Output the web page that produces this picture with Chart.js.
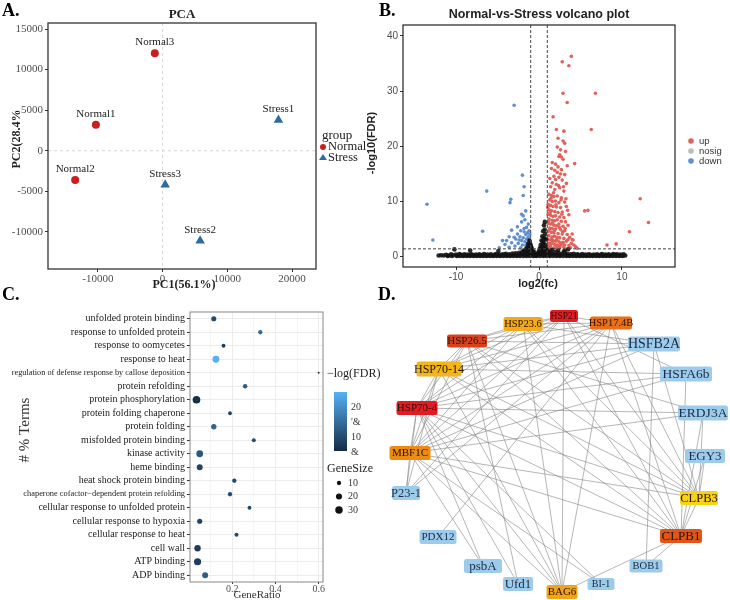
<!DOCTYPE html>
<html>
<head>
<meta charset="utf-8">
<script src="https://cdn.jsdelivr.net/npm/chart.js@4.4.1/dist/chart.umd.min.js"></script>
<style>
body { margin: 0; background: #fff; }
#wrap { position: relative; width: 730px; height: 600px; }
#wrap canvas { position: absolute; left: 0; top: 0; }
</style>
</head>
<body>
<div id="wrap">
  <canvas id="pca" width="730" height="600"></canvas>
  <canvas id="volcano" width="730" height="600"></canvas>
  <canvas id="go" width="730" height="600"></canvas>
  <canvas id="net" width="730" height="600"></canvas>
</div>
<script>
const SERIF = "'Liberation Serif', 'DejaVu Serif', serif";
const SANS = "'Liberation Sans', Arial, sans-serif";

// ---- A. PCA ----
const pcaSamples = ['Normal1', 'Normal2', 'Normal3', 'Stress1', 'Stress2', 'Stress3'];
const pcaGroup = ['Normal', 'Normal', 'Normal', 'Stress', 'Stress', 'Stress'];
const pc1 = [-10300, -13500, -1200, 17900, 5800, 400];
const pc2 = [3200, -3600, 12000, 3800, -11100, -4200];
const pcaXTicks = [-10000, 0, 10000, 20000];
const pcaYTicks = [-10000, -5000, 0, 5000, 10000, 15000];

// ---- B. volcano (log2fc, -log10 FDR) ----
const upPts = [
  [2.8,35.3],[3.9,36.3],[3.6,34.6],[2.9,29.6],[6.8,29.6],[3.4,27.9],[6.3,23.0],[12.2,10.4],[13.2,6.1],[10.9,4.4],
  [5.5,8.2],[5.9,8.3],[8.2,2.0],[9.3,2.2],[4.0,3.0],[4.6,1.4],
  [1.7,25.3],[2.1,23.0],[3.0,22.7],[2.3,21.4],[2.9,20.9],[3.1,20.5],[2.2,19.8],[2.6,19.3],[3.2,19.0],[2.5,18.4],
  [2.7,18.0],[2.4,18.1],[2.9,17.6],[1.6,17.0],[2.0,16.7],[3.4,16.4],[4.3,16.8],[1.5,15.9],[1.9,15.6],[2.2,15.2],
  [2.6,14.9],[3.1,14.8],[1.8,14.5],[2.4,14.3],[1.3,14.1],[2.8,13.8],[1.6,13.3],[2.1,13.0],[3.3,13.2],[1.4,12.6],
  [2.5,12.4],[1.9,12.1],[3.0,11.8],[2.3,16.2],[2.0,13.9],[2.7,15.7],
  [1.2,11.2],[1.5,11.0],[1.8,10.8],[2.2,10.9],[2.7,10.6],[1.3,10.2],[1.6,9.9],[2.0,10.0],[2.4,9.7],[3.1,9.8],
  [1.1,9.4],[1.4,9.2],[1.7,9.0],[2.1,8.9],[2.6,8.8],[3.3,9.0],[1.2,8.4],[1.5,8.2],[1.9,8.1],[2.3,7.9],
  [2.8,8.0],[1.1,7.6],[1.4,7.4],[1.7,7.2],[2.0,7.3],[2.5,7.1],[3.0,7.0],[3.6,7.5],[1.2,6.7],[1.6,6.5],
  [1.9,6.4],[2.2,6.6],[2.7,6.3],[3.2,6.2],[1.1,5.9],[1.4,5.8],[1.8,5.6],[2.1,5.5],[2.4,5.8],[2.9,5.4],
  [3.5,5.6],[1.3,5.1],[1.6,5.0],[2.0,4.9],[2.6,4.8],[3.1,4.6],[1.1,4.5],[1.5,4.3],[1.8,4.2],[2.3,4.1],
  [2.8,4.0],[3.4,3.9],[4.0,4.0],[1.2,3.7],[1.6,3.5],[1.9,3.6],[2.2,3.4],[2.5,3.3],[3.0,3.2],[3.7,3.4],
  [1.1,3.0],[1.4,2.9],[1.7,2.8],[2.0,2.7],[2.4,2.6],[2.9,2.5],[3.3,2.7],[4.1,2.9],[1.2,2.3],[1.5,2.2],
  [1.9,2.1],[2.2,2.0],[2.6,1.9],[3.1,2.0],[3.6,1.9],[4.2,2.0],[1.1,1.7],[1.4,1.6],[1.8,1.5],[2.1,1.6],
  [2.5,1.5],[3.0,1.6],[3.8,1.5],[4.4,1.7],[1.0,1.4],[1.3,1.9],[1.6,2.5],[2.3,1.8],[2.8,2.2],[1.15,6.2],
  [1.25,4.8],[1.05,8.8],[1.35,7.9],[1.45,10.5],[1.55,3.2],[1.65,6.0],[1.75,11.5],[1.85,4.6],[2.05,9.3],[2.15,3.0],
  [2.35,12.8],[2.45,5.2],[2.55,2.4],[2.65,10.2],[2.75,7.6],[2.85,4.4],[3.5,3.0],[3.9,2.3],[2.95,12.6],[3.25,10.4],
  [3.45,8.3],[3.15,5.0]
];
const nosigPts = [
  [-12.1,0.1],[-11.8,0.15],[-11.5,0.1],[-11.2,0.2],[-10.9,0.1],[-10.6,0.3],[-10.3,0.15],[-10.0,0.25],[-9.8,0.1],[-9.6,0.35],
  [-9.4,0.2],[-9.2,0.1],[-9.0,0.3],[-8.8,0.15],[-8.6,0.25],[-8.4,0.1],[-8.2,0.3],[-8.0,0.2],[-7.8,0.1],[-7.6,0.25],
  [-7.4,0.15],[-7.2,0.3],[-7.0,0.1],[-6.8,0.2],[-6.6,0.35],[-6.4,0.1],[-6.2,0.25],[-6.0,0.15],[-5.8,0.3],[-5.6,0.1],
  [-5.4,0.2],[-5.2,0.35],[-5.0,0.15],[-4.8,0.25],[-4.6,0.1],[-4.4,0.3],[-4.2,0.2],[-4.0,0.4],[-3.8,0.15],[-3.6,0.3],
  [-3.4,0.1],[-3.2,0.45],[-3.0,0.25],[-2.8,0.5],[-2.6,0.15],[-2.4,0.6],[-2.2,0.3],[-2.0,0.8],[-1.9,0.4],[-1.8,1.0],
  [-1.7,0.2],[-1.6,1.2],[-1.5,0.6],[-1.4,1.6],[-1.35,0.9],[-1.3,2.2],[-1.25,0.3],[-1.2,1.4],[-1.15,2.8],[-1.1,0.7],
  [-1.05,1.9],[-1.0,1.1],[-0.95,0.4],[-0.9,1.5],[-0.85,0.8],[-0.8,0.2],[-0.75,1.0],[-0.7,0.5],[-0.6,0.3],[-0.5,0.15],
  [-0.4,0.1],[-0.3,0.2],[-0.2,0.35],[-0.1,0.6],[0.0,0.9],[0.1,1.4],[0.15,0.5],[0.2,2.0],[0.25,1.1],[0.3,2.8],
  [0.35,0.7],[0.4,3.6],[0.45,1.8],[0.5,4.5],[0.55,2.4],[0.6,5.6],[0.62,1.2],[0.65,3.2],[0.7,6.2],[0.72,0.6],
  [0.75,4.0],[0.8,2.0],[0.85,3.0],[0.9,1.2],[0.95,0.5],[1.0,0.9],[1.1,0.3],[1.2,0.6],[1.3,0.2],[1.4,0.9],
  [1.5,0.4],[1.6,1.1],[1.8,0.3],[2.0,0.7],[2.2,0.2],[2.4,0.5],[2.6,0.15],[2.8,0.4],[3.0,0.8],[3.2,0.2],
  [3.4,0.35],[3.6,0.1],[3.8,0.3],[4.0,0.2],[4.2,0.4],[4.4,0.1],[4.6,0.3],[4.8,0.2],[5.0,0.1],[5.2,0.35],
  [5.4,0.15],[5.6,0.25],[5.8,0.1],[6.0,0.3],[6.2,0.2],[6.4,0.1],[6.6,0.25],[6.8,0.15],[7.0,0.3],[7.2,0.1],
  [7.4,0.2],[7.6,0.35],[7.8,0.1],[8.0,0.25],[8.2,0.15],[8.4,0.3],[8.6,0.1],[8.8,0.2],[9.0,0.35],[9.2,0.15],
  [9.4,0.3],[9.6,0.1],[9.8,0.25],[10.0,0.15],[10.2,0.3],[10.4,0.1],
  [-11.0,0.0],[-10.5,0.0],[-9.9,0.0],[-9.5,0.0],[-9.1,0.0],[-8.7,0.0],[-8.3,0.0],[-7.9,0.0],[-7.5,0.0],[-7.1,0.0],
  [-6.7,0.0],[-6.3,0.0],[-5.9,0.0],[-5.5,0.0],[-5.1,0.0],[-4.7,0.0],[-4.3,0.0],[-3.9,0.0],[-3.5,0.0],[-3.1,0.0],
  [-2.7,0.0],[-2.3,0.0],[-1.9,0.0],[-1.5,0.0],[-1.1,0.0],[-0.7,0.0],[-0.3,0.0],[0.1,0.0],[0.5,0.0],[0.9,0.0],
  [1.3,0.0],[1.7,0.0],[2.1,0.0],[2.5,0.0],[2.9,0.0],[3.3,0.0],[3.7,0.0],[4.1,0.0],[4.5,0.0],[4.9,0.0],
  [5.3,0.0],[5.7,0.0],[6.1,0.0],[6.5,0.0],[6.9,0.0],[7.3,0.0],[7.7,0.0],[8.1,0.0],[8.5,0.0],[8.9,0.0],
  [9.3,0.0],[9.7,0.0],[10.1,0.0],
  [-10.2,1.2],[-8.3,1.0],[-4.9,0.9],[2.3,1.0],[3.5,1.2],[3.1,0.9],
  [-1.6,0.3],[-1.4,0.5],[-1.2,0.2],[-1.0,0.4],[-0.8,0.6],[0.2,0.3],[0.4,0.6],[0.6,0.2],[0.8,0.5],[1.0,0.2],
  [0.5,1.0],[0.35,1.6],[0.55,3.3],[0.68,4.8],[0.45,2.6],[-1.1,2.4],[-1.25,1.7],[-1.0,2.0],
  [-1.7,0.7],[-1.45,1.1],[-1.2,0.9],[-0.95,1.5],[-0.6,0.7],[0.05,0.4],[0.3,1.3],[0.5,2.0],[0.75,1.5],[0.85,0.9]
];
const downPts = [
  [-13.5,9.4],[-12.8,2.9],[-6.3,11.8],[-6.8,4.5],[-3.0,27.4],[-3.4,10.3],[-3.5,9.7],[-2.0,14.7],[-1.8,12.6],[-1.9,11.0],
  [-1.6,8.2],[-2.1,7.6],[-1.9,7.3],[-3.3,4.7],[-4.8,1.5],[-2.6,5.3],[-1.7,6.6],[-1.3,5.8],[-1.5,5.2],[-2.2,4.6],
  [-1.2,4.6],[-1.8,4.4],[-1.4,4.2],[-2.6,4.0],[-1.1,4.0],[-1.6,3.9],[-3.6,3.5],[-3.0,3.4],[-2.3,3.5],[-1.3,3.5],
  [-1.9,3.3],[-1.5,3.1],[-2.8,3.1],[-1.2,3.0],[-3.9,2.8],[-2.1,2.8],[-1.7,2.6],[-3.3,2.4],[-2.5,2.3],[-1.4,2.3],
  [-1.1,2.2],[-4.1,2.1],[-2.0,2.0],[-1.6,1.9],[-2.9,1.8],[-1.3,1.7],[-3.6,1.6],[-2.2,1.5],[-1.5,1.5],[-1.1,1.4],
  [-4.4,2.8],[-2.4,2.9],[-2.1,6.2],[-1.8,5.0]
];
const volcanoXTicks = [-10, 0, 10];
const volcanoYTicks = [0, 10, 20, 30, 40];
const fcCut = 1;
const fdrCut = 1.3;

// ---- C. GO enrichment ----
const goTerms = [
  'unfolded protein binding', 'response to unfolded protein', 'response to oomycetes', 'response to heat',
  'regulation of defense response by callose deposition', 'protein refolding', 'protein phosphorylation',
  'protein folding chaperone', 'protein folding', 'misfolded protein binding', 'kinase activity', 'heme binding',
  'heat shock protein binding', 'chaperone cofactor\u2212dependent protein refolding',
  'cellular response to unfolded protein', 'cellular response to hypoxia', 'cellular response to heat',
  'cell wall', 'ATP binding', 'ADP binding'
];
const geneRatio = [0.115, 0.33, 0.16, 0.125, 0.6, 0.26, 0.035, 0.19, 0.115, 0.3, 0.05, 0.05, 0.21, 0.19, 0.28, 0.05, 0.22, 0.04, 0.04, 0.075];
const geneSize = [14, 10, 8, 25, 2, 11, 32, 8, 16, 9, 25, 19, 10, 10, 8, 14, 9, 22, 28, 19];
const logFDR = [10, 15, 8, 25, 6, 13, 6, 9, 14, 11, 12, 9, 10, 10, 10, 9, 10, 8, 8, 13];
const ratioTicks = [0.1, 0.2, 0.3, 0.4, 0.5, 0.6];
const ratioLabels = [0.2, 0.4, 0.6];
const fdrBarLabels = ['20', "'&", '10', '&'];
const fdrBarValues = [20, 15, 10, 5];
const sizeLegend = [10, 20, 30];

// ---- D. interaction network ----
const nodeNames = ['HSP21', 'HSP17.4B', 'HSP23.6', 'HSP26.5', 'HSFB2A', 'HSP70-14', 'HSFA6b', 'HSP70-4', 'ERDJ3A', 'MBF1C',
  'EGY3', 'P23-1', 'CLPB3', 'PDX12', 'CLPB1', 'psbA', 'BOB1', 'Ufd1', 'BI-1', 'BAG6'];
const nodeX = [564, 611, 523, 467, 654, 439, 686, 417, 703, 410, 705, 406, 699, 438, 681, 483, 646, 518, 601, 562];
const nodeY = [316, 323, 324, 341, 344, 369, 374, 408, 413, 453, 456, 493, 498, 537, 536, 566, 566, 584, 584, 592];
const edges = [
  ['HSP21','HSP23.6'],['HSP21','HSP17.4B'],['HSP21','HSP26.5'],['HSP21','HSP70-14'],['HSP21','HSP70-4'],['HSP21','MBF1C'],
  ['HSP21','CLPB3'],['HSP21','CLPB1'],['HSP21','BAG6'],['HSP21','P23-1'],['HSP21','HSFA6b'],
  ['HSP23.6','HSP17.4B'],['HSP23.6','HSP26.5'],['HSP23.6','HSP70-14'],['HSP23.6','HSP70-4'],['HSP23.6','MBF1C'],
  ['HSP23.6','HSFB2A'],['HSP23.6','CLPB1'],['HSP23.6','BAG6'],['HSP23.6','CLPB3'],
  ['HSP17.4B','HSP26.5'],['HSP17.4B','HSP70-14'],['HSP17.4B','HSP70-4'],['HSP17.4B','MBF1C'],['HSP17.4B','CLPB3'],
  ['HSP17.4B','CLPB1'],['HSP17.4B','BAG6'],['HSP17.4B','PDX12'],['HSP17.4B','P23-1'],
  ['HSP26.5','HSFB2A'],['HSP26.5','HSP70-14'],['HSP26.5','HSP70-4'],['HSP26.5','MBF1C'],['HSP26.5','ERDJ3A'],
  ['HSP26.5','CLPB3'],['HSP26.5','BAG6'],['HSP26.5','Ufd1'],['HSP26.5','CLPB1'],
  ['HSP70-14','HSFA6b'],['HSP70-14','HSP70-4'],['HSP70-14','MBF1C'],['HSP70-14','CLPB3'],['HSP70-14','CLPB1'],
  ['HSP70-14','BAG6'],['HSP70-14','P23-1'],['HSP70-14','HSFB2A'],
  ['HSP70-4','ERDJ3A'],['HSP70-4','HSFA6b'],['HSP70-4','HSFB2A'],['HSP70-4','MBF1C'],['HSP70-4','CLPB3'],['HSP70-4','CLPB1'],
  ['HSP70-4','BAG6'],['HSP70-4','P23-1'],['HSP70-4','psbA'],['HSP70-4','Ufd1'],['HSP70-4','BI-1'],
  ['MBF1C','HSFB2A'],['MBF1C','HSFA6b'],['MBF1C','ERDJ3A'],['MBF1C','CLPB3'],['MBF1C','CLPB1'],['MBF1C','BAG6'],
  ['MBF1C','P23-1'],['MBF1C','psbA'],['MBF1C','BI-1'],
  ['HSFB2A','BOB1'],['HSFB2A','CLPB3'],['HSFA6b','CLPB1'],['ERDJ3A','CLPB1'],['ERDJ3A','CLPB3'],['EGY3','CLPB3'],
  ['EGY3','CLPB1'],['CLPB3','CLPB1'],['CLPB1','BOB1'],['CLPB1','BAG6']
];

// node styles (box colour, box size, font size)
const BLUE_NODE = '#9dcbec';
const nodeFill = ['#e31b23', '#e8701a', '#f2aa18', '#d9421f', BLUE_NODE, '#f3b61a', BLUE_NODE, '#e31b23', BLUE_NODE, '#ee8b14',
  BLUE_NODE, BLUE_NODE, '#f8d216', BLUE_NODE, '#e05519', BLUE_NODE, BLUE_NODE, BLUE_NODE, BLUE_NODE, '#f2a316'];
const nodeW = [28, 42, 39, 40, 52, 45, 52, 41, 50, 41, 40, 28, 38, 37, 42, 38, 33, 30, 27, 31];
const nodeH = [12, 13, 14, 13, 15, 15, 15, 14, 15, 14, 14, 14, 14, 14, 14, 14, 13, 14, 12, 14];
const nodeFont = [9.5, 10.5, 10.5, 11, 14, 12, 13.5, 11, 13.5, 11, 13, 12.5, 12.5, 11, 13, 13, 10.5, 13, 10, 11];

// ---- helpers ----
const fixWidth = w => s => { s.width = w; };
const fixHeight = h => s => { s.height = h; };
const useTicks = vals => s => { s.ticks = vals.map(v => ({ value: v })); };
const plain = v => String(v);

function label(ctx, str, x, y, font, color, align, rot) {
  ctx.save();
  ctx.font = font;
  ctx.fillStyle = color || '#000';
  ctx.textAlign = align || 'center';
  ctx.textBaseline = 'middle';
  ctx.translate(x, y);
  if (rot) ctx.rotate(rot);
  ctx.fillText(str, 0, 0);
  ctx.restore();
}

function box(chart, color, lw) {
  const a = chart.chartArea, ctx = chart.ctx;
  ctx.save();
  ctx.strokeStyle = color;
  ctx.lineWidth = lw;
  ctx.strokeRect(a.left, a.top, a.right - a.left, a.bottom - a.top);
  ctx.restore();
}

function dashLine(chart, x1, y1, x2, y2, color, dash, lw) {
  const ctx = chart.ctx;
  ctx.save();
  ctx.strokeStyle = color;
  ctx.lineWidth = lw || 1;
  ctx.setLineDash(dash);
  ctx.beginPath();
  ctx.moveTo(x1, y1);
  ctx.lineTo(x2, y2);
  ctx.stroke();
  ctx.restore();
}

const base = {
  responsive: false,
  animation: false,
  events: [],
  devicePixelRatio: 1,
  plugins: { legend: { display: false }, tooltip: { enabled: false } }
};

// ================= A. PCA =================
const RED = '#c91f1f', BLUE = '#2b6ca6';
new Chart(document.getElementById('pca'), {
  type: 'scatter',
  data: {
    datasets: ['Normal', 'Stress'].map(g => ({
      label: g,
      data: pc1.map((v, i) => ({ x: v, y: pc2[i], name: pcaSamples[i], g: pcaGroup[i] })).filter(p => p.g === g),
      pointStyle: g === 'Normal' ? 'circle' : 'triangle',
      pointRadius: g === 'Normal' ? 4 : 5.5,
      backgroundColor: g === 'Normal' ? RED : BLUE,
      borderWidth: 0
    }))
  },
  options: {
    ...base,
    layout: { padding: { left: 0, top: 23, right: 414, bottom: 315 } },
    scales: {
      x: {
        type: 'linear', min: -17700, max: 23700,
        afterBuildTicks: useTicks(pcaXTicks), afterFit: fixHeight(16),
        ticks: { font: { family: SERIF, size: 11 }, color: '#4d4d4d', padding: 1, maxRotation: 0, autoSkip: false, callback: plain },
        grid: { drawOnChartArea: false, tickLength: 3, tickColor: '#333' },
        border: { display: false }
      },
      y: {
        type: 'linear', min: -14570, max: 15740,
        afterBuildTicks: useTicks(pcaYTicks), afterFit: fixWidth(48),
        ticks: { font: { family: SERIF, size: 11 }, color: '#4d4d4d', padding: 2, autoSkip: false, callback: plain },
        grid: { drawOnChartArea: false, tickLength: 3, tickColor: '#333' },
        border: { display: false }
      }
    }
  },
  plugins: [{
    id: 'pcaDeco',
    beforeDatasetsDraw(chart) {
      const a = chart.chartArea, x = chart.scales.x, y = chart.scales.y;
      dashLine(chart, x.getPixelForValue(0), a.top, x.getPixelForValue(0), a.bottom, '#d6d6d6', [3, 3]);
      dashLine(chart, a.left, y.getPixelForValue(0), a.right, y.getPixelForValue(0), '#d6d6d6', [3, 3]);
    },
    afterDraw(chart) {
      const ctx = chart.ctx;
      box(chart, '#333', 1.3);
      chart.data.datasets.forEach((ds, di) => {
        chart.getDatasetMeta(di).data.forEach((el, i) => {
          label(ctx, ds.data[i].name, el.x, el.y - 11, '11px ' + SERIF, '#222');
        });
      });
      label(ctx, 'A.', 2, 11, 'bold 18px ' + SERIF, '#000', 'left');
      label(ctx, 'PCA', 182, 15, 'bold 13px ' + SERIF, '#222');
      label(ctx, 'PC2(28.4%', 17, 139, 'bold 12px ' + SERIF, '#222', 'center', -Math.PI / 2);
      label(ctx, 'PC1(56.1%)', 184, 285, 'bold 12px ' + SERIF, '#222');
      // legend
      label(ctx, 'group', 322, 136, '13px ' + SERIF, '#222', 'left');
      ctx.save();
      ctx.fillStyle = RED;
      ctx.beginPath(); ctx.arc(323, 147, 3, 0, Math.PI * 2); ctx.fill();
      ctx.fillStyle = BLUE;
      ctx.beginPath(); ctx.moveTo(323, 154); ctx.lineTo(327, 160); ctx.lineTo(319, 160); ctx.closePath(); ctx.fill();
      ctx.restore();
      label(ctx, 'Normal', 328, 147, '12.5px ' + SERIF, '#222', 'left');
      label(ctx, 'Stress', 328, 158, '12.5px ' + SERIF, '#222', 'left');
    }
  }]
});

// ================= B. volcano =================
const UP = '#e0625b', DOWN = '#6090d0', NOSIG = '#bdbdbd';
const toXY = arr => arr.map(p => ({ x: p[0], y: p[1] }));
new Chart(document.getElementById('volcano'), {
  type: 'scatter',
  data: {
    datasets: [
      { label: 'nosig', data: toXY(nosigPts), backgroundColor: 'rgba(20,20,20,0.9)', borderWidth: 0, pointRadius: 2.3 },
      { label: 'down', data: toXY(downPts), backgroundColor: DOWN, borderWidth: 0, pointRadius: 1.8 },
      { label: 'up', data: toXY(upPts), backgroundColor: UP, borderWidth: 0, pointRadius: 1.8 }
    ]
  },
  options: {
    ...base,
    layout: { padding: { left: 365, top: 25, right: 55, bottom: 319 } },
    scales: {
      x: {
        type: 'linear', min: -16.4, max: 16.4,
        afterBuildTicks: useTicks(volcanoXTicks), afterFit: fixHeight(14),
        ticks: { font: { family: SANS, size: 10 }, color: '#4d4d4d', padding: 1, maxRotation: 0, autoSkip: false, callback: plain },
        grid: { drawOnChartArea: false, tickLength: 3, tickColor: '#333' },
        border: { display: false }
      },
      y: {
        type: 'linear', min: -2, max: 42,
        afterBuildTicks: useTicks(volcanoYTicks), afterFit: fixWidth(38),
        ticks: { font: { family: SANS, size: 10 }, color: '#4d4d4d', padding: 2, autoSkip: false, callback: plain },
        grid: { drawOnChartArea: false, tickLength: 3, tickColor: '#333' },
        border: { display: false }
      }
    }
  },
  plugins: [{
    id: 'volcanoDeco',
    afterDatasetsDraw(chart) {
      const a = chart.chartArea, x = chart.scales.x, y = chart.scales.y, ctx = chart.ctx;
      [-fcCut, fcCut].forEach(v => {
        const px = x.getPixelForValue(v);
        dashLine(chart, px, a.top, px, a.bottom, '#444', [3, 2], 1);
      });
      const py = y.getPixelForValue(fdrCut);
      dashLine(chart, a.left, py, a.right, py, '#444', [3, 2], 1);
      box(chart, '#222', 1.2);
      label(ctx, 'B.', 379, 11, 'bold 18px ' + SERIF, '#000', 'left');
      label(ctx, 'Normal-vs-Stress volcano plot', 539, 15, 'bold 12.5px ' + SANS, '#222');
      label(ctx, '-log10(FDR)', 372, 143, 'bold 11px ' + SANS, '#222', 'center', -Math.PI / 2);
      label(ctx, 'log2(fc)', 538, 284, 'bold 11px ' + SANS, '#222');
      [['up', UP, 141], ['nosig', NOSIG, 151], ['down', DOWN, 161]].forEach(([t, c, yy]) => {
        ctx.save();
        ctx.fillStyle = c;
        ctx.beginPath(); ctx.arc(691, yy, 2.8, 0, Math.PI * 2); ctx.fill();
        ctx.restore();
        label(ctx, t, 699, yy, '9.5px ' + SANS, '#333', 'left');
      });
    }
  }]
});

// ================= C. GO dot plot =================
const LOW = [19, 43, 67], HIGH = [86, 177, 247];
const fdrMin = 5.3, fdrMax = 25.3;
function fdrColor(v) {
  const t = Math.max(0, Math.min(1, (v - fdrMin) / (fdrMax - fdrMin)));
  const c = LOW.map((l, i) => Math.round(l + (HIGH[i] - l) * t));
  return `rgb(${c[0]},${c[1]},${c[2]})`;
}
const sizeRadius = s => 0.68 * Math.sqrt(s);
const isMajor = v => ratioLabels.includes(Math.round(v * 10) / 10);
new Chart(document.getElementById('go'), {
  type: 'bubble',
  data: {
    labels: goTerms,
    datasets: [{
      data: goTerms.map((t, i) => ({ x: geneRatio[i], y: t, r: sizeRadius(geneSize[i]) })),
      backgroundColor: logFDR.map(fdrColor),
      borderWidth: 0
    }]
  },
  options: {
    ...base,
    layout: { padding: { left: 0, top: 312, right: 407, bottom: 6 } },
    scales: {
      x: {
        type: 'linear', min: 0.005, max: 0.62,
        afterBuildTicks: useTicks(ratioTicks), afterFit: fixHeight(12),
        ticks: {
          font: { family: SERIF, size: 10 }, color: '#4d4d4d', padding: -1, maxRotation: 0, autoSkip: false,
          callback: v => isMajor(v) ? String(Math.round(v * 10) / 10) : ''
        },
        grid: {
          color: '#ececec',
          lineWidth: c => isMajor(c.tick.value) ? 1 : 0.5,
          tickColor: c => isMajor(c.tick.value) ? '#333' : 'rgba(0,0,0,0)',
          tickLength: 2
        },
        border: { display: false }
      },
      y: {
        type: 'category', labels: goTerms, offset: true, afterFit: fixWidth(190),
        ticks: {
          font: c => ({ family: SERIF, size: c.index === 4 ? 8.3 : (c.index === 13 ? 8.4 : 10) }),
          color: '#1a1a1a', padding: 2, autoSkip: false
        },
        grid: { color: '#ececec', tickColor: '#333', tickLength: 3, offset: false },
        border: { display: false }
      }
    }
  },
  plugins: [{
    id: 'goDeco',
    afterDraw(chart) {
      const ctx = chart.ctx;
      box(chart, '#888', 1);
      label(ctx, 'C.', 2, 295, 'bold 18px ' + SERIF, '#000', 'left');
      label(ctx, '# % Terms', 25, 430, '15px ' + SERIF, '#333', 'center', -Math.PI / 2);
      label(ctx, 'GeneRatio', 257, 595, '11px ' + SERIF, '#333');
      // colour bar legend
      label(ctx, '\u2212log(FDR)', 327, 374, '12px ' + SERIF, '#222', 'left');
      const top = 392, bot = 451, x0 = 334, w = 13;
      const g = ctx.createLinearGradient(0, bot, 0, top);
      g.addColorStop(0, `rgb(${LOW.join(',')})`);
      g.addColorStop(1, `rgb(${HIGH.join(',')})`);
      ctx.save();
      ctx.fillStyle = g;
      ctx.fillRect(x0, top, w, bot - top);
      ctx.restore();
      fdrBarValues.forEach((v, i) => {
        const yy = bot - (v - fdrMin) / (fdrMax - fdrMin) * (bot - top);
        label(ctx, fdrBarLabels[i], 351, yy, '10px ' + SERIF, '#333', 'left');
      });
      label(ctx, 'GeneSize', 327, 469, '12px ' + SERIF, '#222', 'left');
      sizeLegend.forEach((s, i) => {
        const yy = 483 + i * 13.5;
        ctx.save();
        ctx.fillStyle = '#111';
        ctx.beginPath(); ctx.arc(339, yy, sizeRadius(s), 0, Math.PI * 2); ctx.fill();
        ctx.restore();
        label(ctx, String(s), 348, yy, '10px ' + SERIF, '#333', 'left');
      });
    }
  }]
});

// ================= D. network =================
const idx = n => nodeNames.indexOf(n);
new Chart(document.getElementById('net'), {
  type: 'scatter',
  data: {
    datasets: edges.map(([a, b]) => ({
      data: [{ x: nodeX[idx(a)], y: nodeY[idx(a)] }, { x: nodeX[idx(b)], y: nodeY[idx(b)] }],
      showLine: true, borderColor: '#858585', borderWidth: 0.6, pointRadius: 0
    })).concat([{
      data: nodeNames.map((n, i) => ({ x: nodeX[i], y: nodeY[i] })),
      pointRadius: 0
    }])
  },
  options: {
    ...base,
    layout: { padding: { left: 365, top: 290, right: 0, bottom: 0 } },
    scales: {
      x: { type: 'linear', min: 365, max: 730, display: false },
      y: { type: 'linear', min: 290, max: 600, reverse: true, display: false }
    }
  },
  plugins: [{
    id: 'netNodes',
    afterDatasetsDraw(chart) {
      const ctx = chart.ctx, sx = chart.scales.x, sy = chart.scales.y;
      nodeNames.forEach((n, i) => {
        const cx = sx.getPixelForValue(nodeX[i]), cy = sy.getPixelForValue(nodeY[i]);
        const w = nodeW[i], h = nodeH[i];
        ctx.save();
        ctx.fillStyle = nodeFill[i];
        ctx.beginPath();
        ctx.roundRect(cx - w / 2, cy - h / 2, w, h, 2.5);
        ctx.fill();
        ctx.restore();
        const txt = nodeFill[i] === BLUE_NODE ? '#1b2a40' : '#2b1208';
        label(ctx, n, cx, cy + 0.5, nodeFont[i] + 'px ' + SERIF, txt);
      });
      label(ctx, 'D.', 378, 295, 'bold 18px ' + SERIF, '#000', 'left');
    }
  }]
});
</script>
</body>
</html>
